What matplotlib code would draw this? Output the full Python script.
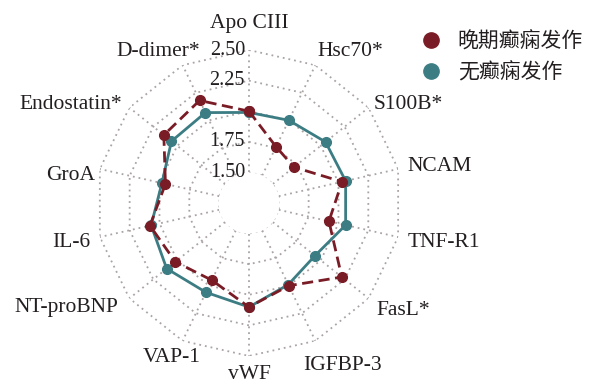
import matplotlib.pyplot as plt
import matplotlib.transforms as mtransforms
from matplotlib.lines import Line2D
import numpy as np

# markers, one value per axis (clockwise from the top)
markers = ['Apo CIII', 'Hsc70*', 'S100B*', 'NCAM', 'TNF-R1', 'FasL*', 'IGFBP-3',
           'vWF', 'VAP-1', 'NT-proBNP', 'IL-6', 'GroA', 'Endostatin*', 'D-dimer*']
late_seizure = [2.00, 1.76, 1.72, 2.03, 1.92, 2.22, 2.00,
                2.10, 1.95, 2.02, 2.08, 1.95, 2.14, 2.18]
no_seizure = [1.99, 2.00, 2.05, 2.06, 2.06, 1.94, 1.99,
              2.10, 2.06, 2.11, 2.07, 1.98, 2.06, 2.07]
ring_values = [1.50, 1.75, 2.00, 2.25, 2.50]
ring_labels = ['1.50', '1.75', '', '2.25', '2.50']
series_names = ['晚期癫痫发作', '无癫痫发作']

red = '#7a1c26'
teal = '#3c7d84'
grid_col = '#aaa3a3'
text_col = '#231f20'

# small pixel nudges for the axis names (x right, y up)
name_nudge = {'Apo CIII': (0, 2), 'Hsc70*': (-2, 5), 'S100B*': (-3, -3),
              'TNF-R1': (0, -3), 'FasL*': (0, -6), 'IGFBP-3': (-16, -16),
              'vWF': (0, 6), 'VAP-1': (22, -8), 'NT-proBNP': (-3, -3),
              'IL-6': (0, -3), 'GroA': (5, -9), 'Endostatin*': (0, -3),
              'D-dimer*': (22, 5)}

plt.rcParams['font.family'] = ['Liberation Serif', 'Noto Sans CJK SC']

fig = plt.figure(figsize=(5.9, 3.85), dpi=100)
ax = fig.add_axes([0.1627, 0.0753, 0.5186, 0.7948], projection='polar')
ax.set_theta_zero_location('N')
ax.set_theta_direction(-1)
ax.set_ylim(1.5, 2.5)
ax.set_rorigin(1.25)
ax.set_frame_on(False)
ax.patch.set_visible(False)
for sp in ax.spines.values():
    sp.set_visible(False)
    sp.set_linewidth(0)
    sp.set_edgecolor('none')

theta = np.arange(len(markers)) * 2 * np.pi / len(markers)
closed = np.append(theta, theta[0])

# spokes
ax.set_xticks(theta)
ax.set_xticklabels([])
ax.set_yticks([])
ax.xaxis.grid(True, color=grid_col, linestyle=(0, (1, 2.2)), linewidth=1.3)
ax.yaxis.grid(False)
ax.tick_params(axis='both', which='both', length=0, width=0)

# polygon rings
for v in ring_values:
    ax.plot(closed, [v] * len(closed), color=grid_col, linestyle=(0, (1, 2.2)),
            linewidth=1.3, zorder=1)

# ring labels along the top spoke
shift = mtransforms.offset_copy(ax.transData, fig=fig, x=-4, y=0, units='dots')
for v, lab in zip(ring_values, ring_labels):
    if lab:
        ax.text(0, v, lab, transform=shift, ha='right', va='center',
                fontsize=14.5, color=text_col, zorder=2)

# data
ax.plot(closed, no_seizure + no_seizure[:1], color=teal, linewidth=2.0,
        marker='o', markersize=7, zorder=3)
ax.plot(closed, late_seizure + late_seizure[:1], color=red, linewidth=2.0,
        linestyle=(0, (4, 2)), marker='o', markersize=7, zorder=4)

# axis names
for t, name in zip(theta, markers):
    s, c = np.sin(t), np.cos(t)
    if s > 0.1:
        ha = 'left'
    elif s < -0.1:
        ha = 'right'
    else:
        ha = 'center'
    va = 'center'
    r = 2.58
    if abs(s) <= 0.1:
        va = 'bottom' if c > 0 else 'top'
        r = 2.62
    dx, dy = name_nudge.get(name, (0, 0))
    tr = mtransforms.offset_copy(ax.transData, fig=fig, x=dx, y=dy, units='dots')
    ax.text(t, r, name, transform=tr, ha=ha, va=va, fontsize=15.5,
            color=text_col, clip_on=False)

handles = [Line2D([], [], color=red, marker='o', linestyle='none', markersize=11),
           Line2D([], [], color=teal, marker='o', linestyle='none', markersize=11)]
fig.legend(handles, series_names, loc='upper right', bbox_to_anchor=(1.02, 0.97),
           frameon=False, handletextpad=0.3, labelspacing=0.42,
           labelcolor=text_col,
           prop={'family': ['Noto Sans CJK SC'], 'size': 15})

fig.savefig('out.png', dpi=100)
